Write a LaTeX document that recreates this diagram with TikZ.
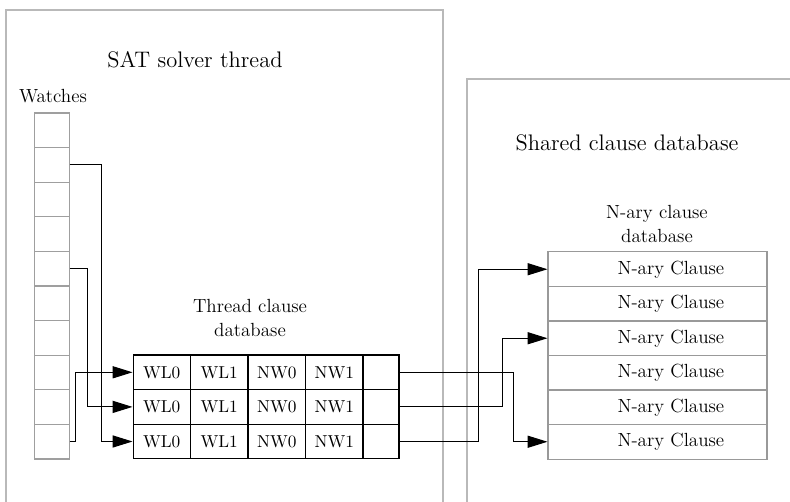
\documentclass[tikz,border=0pt]{standalone}
\usepackage{tikz}
\usetikzlibrary{arrows.meta}

\tikzset{
	frame/.style={draw=gray!55, line width=0.6pt},
	watchcell/.style={draw=gray!75, line width=0.6pt, minimum width=19.7pt, minimum height=20pt, inner sep=0pt},
	tcell/.style={draw=black, line width=0.6pt, minimum width=33.2pt, minimum height=20pt, inner sep=0pt, font=\fontsize{10}{12}\selectfont},
	ncell/.style={draw=gray!80, line width=0.6pt, minimum width=126.6pt, minimum height=20pt, inner sep=0pt, font=\fontsize{11}{13}\selectfont},
	title/.style={font=\fontsize{13}{15}\selectfont},
	label/.style={font=\fontsize{11}{13.4}\selectfont, align=center},
	link/.style={draw=black, line width=0.6pt, -{Triangle[length=11.5pt, width=7pt]}}
}

\begin{document}
\begin{tikzpicture}[x=0.578pt, y=-0.578pt]
	\useasboundingbox (0, 0) rectangle (790, 502);
	%%
	\draw[frame] (6, 502) -- (6, 10) -- (443, 10) -- (443, 502);
	\draw[frame] (467, 502) -- (467, 79) -- (790, 79);
	\node[title] (sat) at (195, 60) {SAT solver thread};
	\node[title] (shared) at (627, 143) {Shared clause database};
	%%
	\node[label] (watches) at (53, 96) {Watches};
	\foreach \i in {1,...,10}
		\node[watchcell] (w\i) at (52, {113+34.6*(\i-0.5)}) {};
	%%
	\node[label] (thread) at (250, 318) {Thread clause\\database};
	\foreach \r in {1,2,3} {
		\foreach \c/\t in {1/WL0, 2/WL1, 3/NW0, 4/NW1}
			\node[tcell] (t\r-\c) at ({133+57.5*(\c-0.5)}, {355+34.6*(\r-0.5)}) {\t};
		\node[tcell, minimum width=20.8pt] (t\r-5) at (381, {355+34.6*(\r-0.5)}) {};
	}
	%%
	\node[label] (nary) at (657, 224) {N-ary clause\\database};
	\foreach \r in {1,...,6}
		\node[ncell] (n\r) at (657.5, {252+34.5*(\r-0.5)}) {\hspace*{15.5pt}N-ary Clause};
	%%
	\draw[link] (w2.east) -- ++(32, 0) |- (t3-1.west);
	\draw[link] (w5.east) -- ++(18, 0) |- (t2-1.west);
	\draw[link] (w10.east) -- ++(6, 0) |- (t1-1.west);
	%%
	\draw[link] (t1-5.east) -- ++(114, 0) |- (n6.west);
	\draw[link] (t2-5.east) -- ++(103, 0) |- (n3.west);
	\draw[link] (t3-5.east) -- ++(79, 0) |- (n1.west);
\end{tikzpicture}
\end{document}
